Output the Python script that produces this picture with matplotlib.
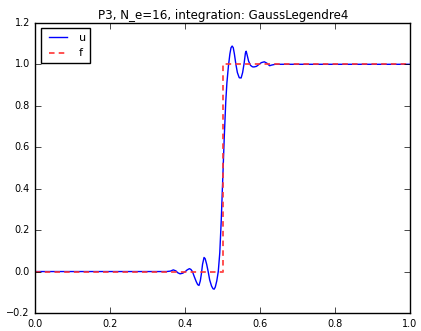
import matplotlib
matplotlib.use("Agg")
import matplotlib.pyplot as plt

# approximation u
u_x = [0.0, 0.30, 0.35, 0.36, 0.368, 0.375, 0.38, 0.386, 0.393, 0.40, 0.405,
       0.411, 0.415, 0.419, 0.424, 0.429, 0.433, 0.4365, 0.440, 0.443, 0.446,
       0.450, 0.453, 0.457, 0.461, 0.465, 0.470, 0.474, 0.477, 0.480, 0.484,
       0.488, 0.492, 0.496, 0.500, 0.504, 0.508, 0.511, 0.515, 0.519, 0.522,
       0.525, 0.528, 0.531, 0.535, 0.539, 0.544, 0.549, 0.553, 0.557, 0.5605,
       0.5625, 0.565, 0.569, 0.574, 0.579, 0.583, 0.590, 0.597, 0.603, 0.611,
       0.618, 0.625, 0.630, 0.64, 1.0]
u_y = [0.0, 0.0, 0.0, 0.002, 0.008, 0.003, -0.006, -0.011, -0.008, 0.0, 0.008,
       0.014, 0.010, 0.0, -0.025, -0.048, -0.063, -0.067, -0.045, -0.010, 0.035,
       0.068, 0.062, 0.035, 0.0, -0.040, -0.070, -0.083, -0.085, -0.075, -0.045,
       0.0, 0.09, 0.25, 0.45, 0.65, 0.82, 0.91, 0.99, 1.05, 1.08,
       1.088, 1.08, 1.05, 1.0, 0.96, 0.935, 0.934, 0.96, 1.005, 1.055,
       1.063, 1.045, 1.015, 0.995, 0.988, 0.987, 0.99, 1.0, 1.008, 1.012,
       1.005, 0.993, 0.996, 1.0, 1.0]

# step function f
f_x = [0.0, 0.5, 0.5, 1.0]
f_y = [0.0, 0.0, 1.0, 1.0]

title = "P3, N_e=16, integration: GaussLegendre4"

plt.style.use("classic")
fig = plt.figure(figsize=(4.21, 3.31), dpi=100, facecolor="white")
ax = fig.add_axes([0.0843, 0.0544, 0.8897, 0.8766])

ax.plot(u_x, u_y, "b-", lw=1, label="u")
ax.plot(f_x, f_y, color="#ff3333", ls="--", dashes=(4, 3), lw=1.4, alpha=0.85, label="f")

ax.set_xlim(0, 1)
ax.set_ylim(-0.2, 1.2)
ax.set_xticks([0.0, 0.2, 0.4, 0.6, 0.8, 1.0])
ax.set_yticks([-0.2, 0.0, 0.2, 0.4, 0.6, 0.8, 1.0, 1.2])
ax.tick_params(labelsize=7, length=4)
ax.set_title(title, fontsize=8.6, pad=3)
ax.legend(loc="upper left", fontsize=8, handlelength=2.2, borderpad=0.4)

fig.savefig("out.png", dpi=100, facecolor="white")
